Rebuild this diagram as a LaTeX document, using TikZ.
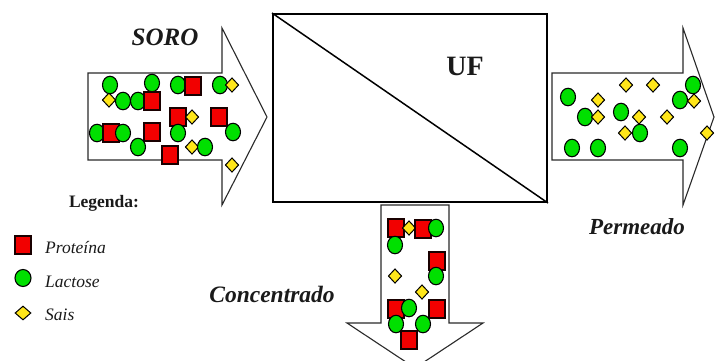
\documentclass[tikz,border=0pt]{standalone}
\usepackage{fontspec}
\setmainfont{Liberation Serif}
\usetikzlibrary{shapes.geometric}
\definecolor{protred}{HTML}{F20000}
\definecolor{lacgreen}{HTML}{00E000}
\definecolor{salyellow}{HTML}{FFE61A}
\definecolor{inkc}{HTML}{1A1A1A}
\definecolor{outl}{HTML}{2A2A2A}
\tikzset{
  prot/.style={rectangle, fill=protred, draw=black!90!red, line width=1.6pt, minimum width=16.5pt, minimum height=17.5pt, inner sep=0pt},
  lac/.style={ellipse, fill=lacgreen, draw=black, line width=1.1pt, minimum width=15pt, minimum height=17.5pt, inner sep=0pt},
  sal/.style={diamond, fill=salyellow, draw=black, line width=1pt, minimum width=13.5pt, minimum height=14.5pt, inner sep=0pt},
  flowarrow/.style={draw=outl, line width=1.1pt, fill=white, line join=miter},
  ufbox/.style={draw=black, line width=2pt},
  bigital/.style={font=\fontsize{23}{27}\selectfont\bfseries\itshape, text=inkc, inner sep=0pt},
  legtext/.style={font=\fontsize{17.5}{21}\selectfont\itshape, text=inkc, anchor=west, inner sep=0pt}
}
\begin{document}
\begin{tikzpicture}[x=1pt,y=-1pt]
\useasboundingbox (0,0) rectangle (715,360);
\fill[white] (0,0) rectangle (715,360);
\begin{scope}
\clip (0,0) rectangle (715,360);
% arrows
\draw[flowarrow] (88,73) -- (222,73) -- (222,28) -- (267,117) -- (222,205) -- (222,160) -- (88,160) -- cycle;
\draw[flowarrow] (552,73) -- (683,73) -- (683,28) -- (714,117) -- (683,205) -- (683,160) -- (552,160) -- cycle;
\draw[flowarrow] (381,205) -- (381,323) -- (347,323) -- (415,368) -- (483,323) -- (449,323) -- (449,205) -- cycle;
\end{scope}
% UF box
\node[ufbox, minimum width=274pt, minimum height=188pt, anchor=north west, inner sep=0pt] (uf) at (272,13) {};
\draw[line width=1.5pt] (uf.north west) -- (uf.south east);
\node[font=\fontsize{28}{32}\selectfont\bfseries, text=inkc, inner sep=0pt] (uflabel) at (465,66) {UF};
% labels
\node[font=\fontsize{25}{30}\selectfont\bfseries\itshape, text=inkc, inner sep=0pt] (soro) at (165,37) {SORO};
\node[bigital] (perm) at (637,227) {Permeado};
\node[bigital, font=\fontsize{23.5}{27}\selectfont\bfseries\itshape] (conc) at (272,294) {Concentrado};
% left arrow particles
\foreach \x/\y [count=\i] in {109/100, 192/147} \node[sal] (ls\i) at (\x,\y) {};
\foreach \x/\y [count=\i] in {110/85, 152/83, 178/85, 220/85, 97/133, 123/101, 138/101, 205/147} \node[lac] (lc\i) at (\x,\y) {};
\foreach \x/\y [count=\i] in {193/86, 152/101, 178/117, 219/117, 111/133, 152/132, 170/155} \node[prot] (lp\i) at (\x,\y) {};
\foreach \x/\y [count=\i] in {123/133, 178/133, 233/132, 138/147} \node[lac] (lcb\i) at (\x,\y) {};
\foreach \x/\y [count=\i] in {232/85, 192/117, 232/165} \node[sal] (lsb\i) at (\x,\y) {};
% right arrow particles
\foreach \x/\y [count=\i] in {625/133, 639/117} \node[sal] (rs\i) at (\x,\y) {};
\foreach \x/\y [count=\i] in {568/97, 585/117, 621/112, 640/133, 680/100, 693/85, 572/148, 598/148, 680/148} \node[lac] (rc\i) at (\x,\y) {};
\foreach \x/\y [count=\i] in {598/100, 598/117, 626/85, 653/85, 667/117, 694/101, 707/133} \node[sal] (rsb\i) at (\x,\y) {};
% bottom arrow particles
\node[prot] (bp1) at (396,228) {};
\node[sal] (bs1) at (409,228) {};
\foreach \x/\y [count=\i] in {423/229, 437/261, 396/309, 437/309} \node[prot] (bpb\i) at (\x,\y) {};
\foreach \x/\y [count=\i] in {436/228, 395/245, 436/276, 409/308, 396/324, 423/324} \node[lac] (bc\i) at (\x,\y) {};
\foreach \x/\y [count=\i] in {395/276, 422/292} \node[sal] (bsb\i) at (\x,\y) {};
\node[prot] (bpc) at (409,340) {};
% legend
\node[font=\fontsize{17.5}{21}\selectfont\bfseries, text=inkc, inner sep=0pt] (leg) at (104,203) {Legenda:};
\node[prot, minimum width=16pt, minimum height=18pt] (legp) at (23,245) {};
\node[lac, minimum width=16pt, minimum height=17pt] (legl) at (23,278) {};
\node[sal, minimum width=16pt, minimum height=14pt] (legs) at (23,313) {};
\node[legtext] (tp) at (45,248) {Proteína};
\node[legtext] (tl) at (45,282) {Lactose};
\node[legtext] (ts) at (45,315) {Sais};
\end{tikzpicture}
\end{document}
